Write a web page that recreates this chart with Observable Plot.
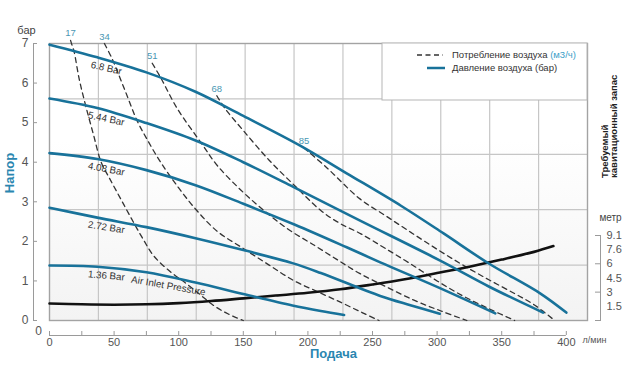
<!DOCTYPE html>
<html><head><meta charset="utf-8">
<script src="https://cdn.jsdelivr.net/npm/d3@7"></script>
<script src="https://cdn.jsdelivr.net/npm/@observablehq/plot@0.6"></script>
<style>
body{margin:0;background:#fff;}
#chart svg{display:block}
</style>
</head><body><div id="chart"></div>
<script>
// ---- Air pressure curves: [flow l/min, head bar]
const air68  = [[0,6.97],[37,6.65],[75,6.27],[113,5.78],[150,5.17],[194,4.42],[230,3.72],[272,2.9],[305,2.2],[340,1.44],[380,0.68],[400,0.2]];
const air544 = [[0,5.61],[37,5.37],[75,4.99],[113,4.55],[150,4.0],[189,3.37],[240,2.53],[302,1.52],[340,0.86],[382,0.2]];
const air408 = [[0,4.23],[37,4.08],[75,3.8],[113,3.42],[150,2.95],[190,2.42],[230,1.85],[256,1.47],[300,0.85],[345,0.18]];
const air272 = [[0,2.85],[37,2.6],[75,2.36],[113,2.08],[150,1.78],[188,1.45],[210,1.2],[256,0.62],[280,0.38],[302,0.17]];
const air136 = [[0,1.39],[37,1.36],[75,1.22],[113,0.96],[150,0.67],[188,0.38],[210,0.24],[228,0.14]];
const pressureNames = ["6.8 Bar","5.44 Bar","4.08 Bar","2.72 Bar","1.36 Bar"];

// ---- Air consumption curves (m3/h): [flow l/min, head bar]
const cons17 = [[16.3,7.08],[17.5,6.95],[19,6.8],[23,6.1],[28,5.43],[34,4.7],[40,4.0],[47,3.56],[55,3.08],[63,2.6],[72,2.08],[81,1.62],[94,1.22],[106,0.93],[116,0.67],[127,0.38],[138,0.17],[150,0]];
const cons34 = [[42.5,7.0],[48.5,6.61],[58,5.85],[67.8,5.05],[76,4.55],[86,4.0],[100,3.35],[114,2.78],[130,2.25],[150,1.82],[170,1.4],[189,1.01],[208,0.72],[226,0.45],[242,0.2],[255,0]];
const cons51 = [[79.5,6.5],[86,6.14],[99,5.35],[118,4.46],[130,3.91],[148,3.3],[166,2.78],[185,2.3],[205,1.9],[222,1.55],[240,1.19],[262,0.83],[283,0.5],[303,0.24],[323,0]];
const cons68 = [[129.5,5.68],[136,5.35],[150,4.8],[170,4.05],[190,3.4],[210,2.78],[225,2.45],[241,2.19],[260,1.82],[280,1.42],[300,1.0],[320,0.62],[340,0.3],[360,0]];
const cons85 = [[197,4.36],[215,3.85],[240,3.08],[260,2.65],[280,2.22],[300,1.8],[320,1.4],[340,1.03],[360,0.68],[375,0.4],[391,0]];
const consNames = ["17","34","51","68","85"];

// ---- Required NPSH: [flow l/min, metres]
const npsh = [[0,1.83],[25,1.74],[50,1.7],[75,1.74],[100,1.87],[125,2.09],[150,2.38],[175,2.68],[200,2.98],[225,3.36],[250,3.87],[275,4.43],[300,5.1],[325,5.79],[350,6.55],[375,7.38],[390,8.0]];

// ---- Axes
const xTicks = [0,25,50,75,100,125,150,175,200,225,250,275,300,325,350,375,400];
const yTicks = [0,1,2,3,4,5,6,7];
const gridY = [1.4,2.8,4.2,5.6];
const npshTickM = [0,3.05,6.1,9.14];
const npshLabelM = [1.52,3.05,4.57,6.1,7.62,9.14];
const npshLabels = ["1.5","3","4.5","6","7.6","9.1"];
const labelAngles = [13,12,11,9,5];

const gpm10 = 37.854;           // grid column = 10 US gpm
const gridX = d3.range(1, 11).map(i => i * gpm10);
const xMax = gpm10 * 11;
const mToBar = 0.235;           // right (NPSH) scale against left scale

const BLUE = "#18729a", TEAL = "#2a86b0", NUM = "#4a97b3", TXT = "#333";
const FONT = "'Liberation Sans', Arial, Helvetica, sans-serif";

const pSeries = [air68, air544, air408, air272, air136];
const cSeries = [cons17, cons34, cons51, cons68, cons85];
const pRows = pSeries.flatMap((pts, k) => pts.map(([q, p]) => ({s: pressureNames[k], q, p})));
const cRows = cSeries.flatMap((pts, k) => pts.map(([q, p]) => ({s: consNames[k], q, p})));
const nRows = npsh.map(([q, m]) => ({q, p: m * mToBar}));

function at(pts, x) {
  for (let i = 1; i < pts.length; i++) {
    if (x <= pts[i][0]) {
      const [x0, y0] = pts[i-1], [x1, y1] = pts[i];
      return y0 + (y1 - y0) * (x - x0) / (x1 - x0);
    }
  }
  return pts[pts.length-1][1];
}
const pLabels = pSeries.map((pts, k) => ({q: 44, p: at(pts, 44), t: pressureNames[k], a: labelAngles[k]}));
const airInlet = [{q: 92, p: at(air136, 92), t: "Air Inlet Pressure", a: 10}];
const cLabels = cSeries.map((pts, k) => ({q: pts[0][0], p: pts[0][1], t: consNames[k]}));

const plot = Plot.plot({
  width: 628, height: 367,
  marginLeft: 49, marginRight: 41, marginTop: 43, marginBottom: 47,
  x: {domain: [0, xMax], axis: null},
  y: {domain: [0, 7], axis: null},
  style: {fontFamily: FONT, background: "transparent", overflow: "visible"},
  marks: [
    Plot.frame({fill: "url(#bgGrad)", stroke: "none"}),
    Plot.ruleX(gridX, {stroke: "#c6c6c6", strokeWidth: 1.2}),
    Plot.ruleY(gridY, {stroke: "#c6c6c6", strokeWidth: 1.2}),
    Plot.frame({stroke: "#a3a3a3", strokeWidth: 1.4}),
    // left axis
    Plot.ruleX([0], {y1: 0, y2: 7, dx: -16, stroke: "#9a9a9a"}),
    Plot.axisY(yTicks, {anchor: "left", label: null, tickSize: 4, dx: -12, tickPadding: 5, fontSize: 12, color: "#555", stroke: "#9a9a9a"}),
    // bottom axis
    Plot.ruleY([0], {x1: 0, x2: 400, dy: 15, stroke: "#9a9a9a"}),
    Plot.axisX(xTicks, {anchor: "bottom", label: null, tickSize: 4, dy: 11, tickPadding: 3, fontSize: 11, color: "#555", stroke: "#9a9a9a",
      tickFormat: d => d % 50 === 0 ? String(d) : ""}),
    // right NPSH axis
    Plot.ruleX([xMax], {y1: 0, y2: 9.14 * mToBar, dx: 13, stroke: "#9a9a9a"}),
    Plot.axisY(npshTickM.map(m => m * mToBar), {anchor: "right", label: null, tickSize: 6, dx: 7, tickFormat: () => "", stroke: "#9a9a9a"}),
    Plot.text(npshLabelM, {frameAnchor: "right", y: m => m * mToBar, text: (d, i) => npshLabels[i], dx: 19, textAnchor: "start", fontSize: 11, fill: "#555"}),
    // curves
    Plot.line(cRows, {x: "q", y: "p", z: "s", stroke: "#333", strokeWidth: 1.3, strokeDasharray: "5,4", curve: "catmull-rom"}),
    Plot.line(nRows, {x: "q", y: "p", stroke: "#111", strokeWidth: 2.6, curve: "catmull-rom"}),
    Plot.line(pRows, {x: "q", y: "p", z: "s", stroke: BLUE, strokeWidth: 2.6, curve: "catmull-rom"}),
    // curve labels
    Plot.text(pLabels, {x: "q", y: "p", text: "t", rotate: "a", dy: 8, fontSize: 9.8, fill: TXT}),
    Plot.text(airInlet, {x: "q", y: "p", text: "t", rotate: "a", dy: 9, fontSize: 9.8, fill: TXT}),
    Plot.text(cLabels, {x: "q", y: "p", text: "t", dy: -7, fontSize: 9.5, fill: NUM}),
    // titles
    Plot.text(["бар"], {frameAnchor: "top-left", dx: -23, dy: -17, textAnchor: "middle", fontSize: 11, fill: "#444"}),
    Plot.text(["Напор"], {frameAnchor: "left", dx: -40, dy: -9, rotate: -90, textAnchor: "middle", fontSize: 13, fontWeight: "bold", fill: TEAL}),
    Plot.text(["Подача"], {frameAnchor: "bottom", dx: 15, dy: 37, textAnchor: "middle", fontSize: 13, fontWeight: "bold", fill: TEAL}),
    Plot.text(["л/мин"], {frameAnchor: "bottom-right", dx: -5, dy: 22, textAnchor: "start", fontSize: 9, fill: "#555"}),
    Plot.text(["0"], {frameAnchor: "bottom-left", dx: -11, dy: 14, textAnchor: "middle", fontSize: 12, fill: "#555"}),
    Plot.text(["Требуемый"], {frameAnchor: "right", dx: 17, dy: -4, rotate: -90, textAnchor: "start", fontSize: 9.5, fontWeight: "bold", fill: "#222"}),
    Plot.text(["кавитационный запас"], {frameAnchor: "right", dx: 26, dy: -4, rotate: -90, textAnchor: "start", fontSize: 9.5, fontWeight: "bold", fill: "#222"}),
    Plot.text(["метр"], {frameAnchor: "right", dx: 23, dy: 36, textAnchor: "middle", fontSize: 10, fill: "#444"})
  ]
});
document.getElementById("chart").appendChild(plot);

// background gradient + legend
const svg = d3.select(plot);
const defs = svg.insert("defs", ":first-child");
const g = defs.append("linearGradient").attr("id", "bgGrad").attr("x1", 0).attr("y1", 0).attr("x2", 0).attr("y2", 1);
g.append("stop").attr("offset", "0%").attr("stop-color", "#ffffff");
g.append("stop").attr("offset", "35%").attr("stop-color", "#ffffff");
g.append("stop").attr("offset", "100%").attr("stop-color", "#f3f3f3");

const lg = svg.append("g").attr("font-family", FONT).attr("font-size", 9.5).attr("text-anchor", "start");
lg.append("rect").attr("x", 382).attr("y", 43).attr("width", 205).attr("height", 57).attr("fill", "#fff").attr("stroke", "#b5b5b5");
lg.append("line").attr("x1", 417).attr("x2", 443).attr("y1", 55).attr("y2", 55).attr("stroke", "#333").attr("stroke-width", 1.4).attr("stroke-dasharray", "5,3.5");
const t1 = lg.append("text").attr("x", 452).attr("y", 55).attr("dy", "0.35em").attr("fill", TXT);
t1.append("tspan").text("Потребление воздуха ");
t1.append("tspan").attr("fill", "#3aa0c8").text("(м3/ч)");
lg.append("line").attr("x1", 427).attr("x2", 445).attr("y1", 68).attr("y2", 68).attr("stroke", BLUE).attr("stroke-width", 2.5);
lg.append("text").attr("x", 452).attr("y", 68).attr("dy", "0.35em").attr("fill", TXT).text("Давление воздуха (бар)");
</script>
</body></html>
